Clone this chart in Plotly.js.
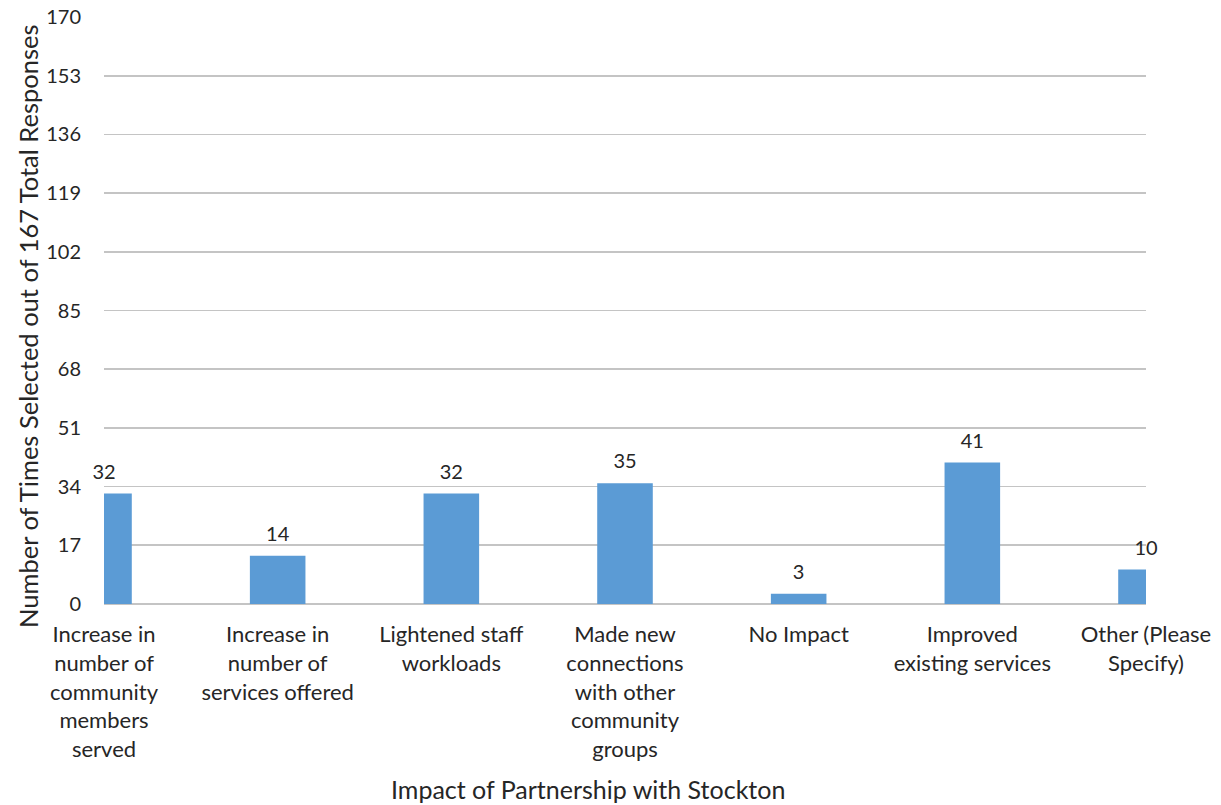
<!DOCTYPE html>
<html>
<head>
<meta charset="utf-8">
<script src="https://cdn.plot.ly/plotly-3.0.1.min.js"></script>
<style>html,body{margin:0;padding:0;background:#fff;}#chart{width:1221px;height:805px;}</style>
</head>
<body>
<div id="chart"></div>
<script>
const categories = [
  "Increase in number of community members served",
  "Increase in number of services offered",
  "Lightened staff workloads",
  "Made new connections with other community groups",
  "No Impact",
  "Improved existing services",
  "Other (Please Specify)"
];
const tickLabels = [
  "Increase in<br>number of<br>community<br>members<br>served",
  "Increase in<br>number of<br>services offered",
  "Lightened staff<br>workloads",
  "Made new<br>connections<br>with other<br>community<br>groups",
  "No Impact",
  "Improved<br>existing services",
  "Other (Please<br>Specify)"
];
const values = [32, 14, 32, 35, 3, 41, 10];
const yTicks = [0, 17, 34, 51, 68, 85, 102, 119, 136, 153, 170];

const FONT = "Lato, 'Open Sans', sans-serif";
const TXT = "#262626";

const bars = {
  type: "bar",
  x: categories,
  y: values,
  width: 0.32,
  marker: {color: "#5B9BD5"},
  hoverinfo: "x+y",
  showlegend: false
};
const labels = {
  type: "scatter",
  mode: "markers+text",
  x: categories,
  y: values,
  text: values.map(String),
  textposition: "top center",
  marker: {size: 14, color: "rgba(0,0,0,0)"},
  textfont: {family: FONT, size: 20, color: TXT},
  cliponaxis: false,
  hoverinfo: "skip",
  showlegend: false
};

const layout = {
  width: 1221,
  height: 805,
  margin: {l: 104, r: 75, t: 17, b: 201, pad: 0},
  paper_bgcolor: "#fff",
  plot_bgcolor: "#fff",
  font: {family: FONT, color: TXT},
  showlegend: false,
  xaxis: {
    type: "category",
    range: [0, 6],
    tickmode: "array",
    tickvals: categories,
    ticktext: tickLabels,
    tickfont: {family: FONT, size: 22, color: TXT},
    ticks: "outside",
    ticklen: 11,
    tickcolor: "rgba(0,0,0,0)",
    showgrid: false,
    showline: false,
    zeroline: false,
    fixedrange: true
  },
  yaxis: {
    range: [0, 170],
    tickmode: "array",
    tickvals: yTicks,
    ticktext: yTicks.map(String),
    tickfont: {family: FONT, size: 20, color: TXT},
    ticks: "outside",
    ticklen: 18,
    tickcolor: "rgba(0,0,0,0)",
    showgrid: true,
    gridcolor: "#C4C4C4",
    gridwidth: 1.6,
    zeroline: true,
    zerolinecolor: "#C4C4C4",
    zerolinewidth: 1.6,
    showline: false,
    fixedrange: true
  },
  annotations: [
    {
      text: "Number of Times Selected out of 167 Total Responses",
      xref: "paper", yref: "paper",
      x: -0.0729, y: 0.4736,
      xanchor: "center", yanchor: "middle",
      textangle: -90,
      showarrow: false,
      font: {family: FONT, size: 25.5, color: TXT}
    },
    {
      text: "Impact of Partnership with Stockton",
      xref: "paper", yref: "paper",
      x: 0.4645, y: -0.3152,
      xanchor: "center", yanchor: "middle",
      showarrow: false,
      font: {family: FONT, size: 25, color: TXT}
    }
  ]
};

Plotly.newPlot("chart", [bars, labels], layout, {displayModeBar: false, staticPlot: true});
</script>
</body>
</html>
